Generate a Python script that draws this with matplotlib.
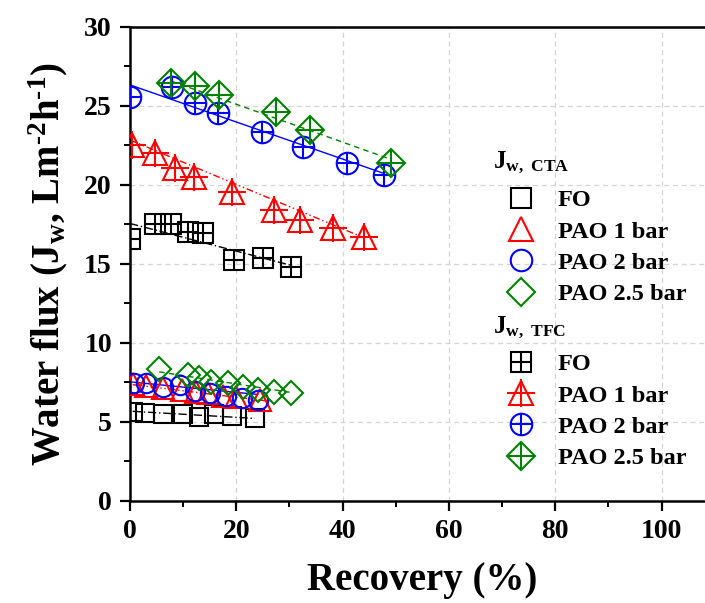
import matplotlib
matplotlib.use('Agg')
import matplotlib.pyplot as plt
from matplotlib.lines import Line2D

plt.rcParams['font.family'] = ['Liberation Serif', 'DejaVu Serif']
plt.rcParams['font.weight'] = 'bold'
plt.rcParams['mathtext.fontset'] = 'custom'
plt.rcParams['mathtext.rm'] = 'Liberation Serif:bold'
plt.rcParams['mathtext.bf'] = 'Liberation Serif:bold'
plt.rcParams['mathtext.it'] = 'Liberation Serif:bold'

# ---- data: TFC (upper cluster, crossed markers) ----
tfc_fo_x = [0.0, 4.7, 7.8, 11.0, 13.8, 19.6, 25.0, 30.3]
tfc_fo_y = [16.55, 17.5, 17.52, 17.04, 16.97, 15.24, 15.35, 14.82]
tfc_p1_x = [0.3, 4.7, 8.5, 12.0, 19.1, 27.1, 32.0, 38.1, 44.0]
tfc_p1_y = [22.53, 22.0, 21.05, 20.52, 19.57, 18.41, 17.78, 17.25, 16.72]
tfc_p2_x = [0.0, 7.85, 12.2, 16.6, 24.9, 32.6, 40.9, 47.7]
tfc_p2_y = [25.55, 26.18, 25.17, 24.54, 23.37, 22.38, 21.37, 20.63]
tfc_p25_x = [7.66, 12.3, 16.8, 27.5, 33.9, 49.2]
tfc_p25_y = [26.44, 26.27, 25.70, 24.64, 23.48, 21.41]

# ---- data: CTA (lower cluster, plain markers) ----
cta_fo_x = [0.5, 2.8, 6.3, 9.9, 13.0, 15.8, 19.1, 23.5]
cta_fo_y = [5.63, 5.57, 5.46, 5.46, 5.31, 5.46, 5.38, 5.25]
cta_p1_x = [0.5, 3.0, 6.3, 9.7, 12.5, 14.7, 17.5, 20.0, 24.5]
cta_p1_y = [7.4, 7.25, 7.1, 7.0, 6.9, 6.8, 6.65, 6.55, 6.35]
cta_p2_x = [0.75, 3.1, 6.3, 9.4, 12.3, 15.1, 18.1, 21.0, 24.0]
cta_p2_y = [7.47, 7.43, 7.21, 7.32, 6.96, 6.79, 6.62, 6.48, 6.37]
cta_p25_x = [5.5, 11.0, 12.9, 15.2, 18.5, 21.3, 24.1, 27.0, 30.2]
cta_p25_y = [8.31, 7.95, 7.74, 7.53, 7.43, 7.21, 7.0, 6.9, 6.79]

# ---- linear trend lines (endpoints) ----
tfc_fo_fit_x, tfc_fo_fit_y = [0.0, 30.3], [17.55, 14.9]
tfc_p1_fit_x, tfc_p1_fit_y = [0.0, 44.0], [22.84, 16.65]
tfc_p2_fit_x, tfc_p2_fit_y = [0.0, 47.7], [26.33, 20.73]
tfc_p25_fit_x, tfc_p25_fit_y = [7.7, 49.2], [26.58, 21.6]
cta_fo_fit_x, cta_fo_fit_y = [0.5, 23.5], [5.65, 5.2]
cta_p1_fit_x, cta_p1_fit_y = [0.5, 26.0], [7.34, 6.3]
cta_p2_fit_x, cta_p2_fit_y = [0.5, 24.0], [7.5, 6.72]
cta_p25_fit_x, cta_p25_fit_y = [5.5, 30.2], [8.15, 6.85]

labels = ['FO', 'PAO 1 bar', 'PAO 2 bar', 'PAO 2.5 bar']
colors = ['black', 'red', 'blue', 'green']
markers = ['s', '^', 'o', 'D']
msizes = [14, 17, 15.5, 14]
cross_scale = [1.0, 1.2, 1.0, 1.41]
lstyles = [(0, (6, 2, 1, 2)), (0, (5, 2, 1, 2, 1, 2)), '-', (0, (4, 3))]

fig = plt.figure(figsize=(7.05, 6.03), dpi=100)
ax = fig.add_axes([130 / 705, 1 - 500.5 / 603, 110 * 5.315 / 705, (500.5 - 27) / 603])

tfc_x = [tfc_fo_x, tfc_p1_x, tfc_p2_x, tfc_p25_x]
tfc_y = [tfc_fo_y, tfc_p1_y, tfc_p2_y, tfc_p25_y]
cta_x = [cta_fo_x, cta_p1_x, cta_p2_x, cta_p25_x]
cta_y = [cta_fo_y, cta_p1_y, cta_p2_y, cta_p25_y]
tfc_fx = [tfc_fo_fit_x, tfc_p1_fit_x, tfc_p2_fit_x, tfc_p25_fit_x]
tfc_fy = [tfc_fo_fit_y, tfc_p1_fit_y, tfc_p2_fit_y, tfc_p25_fit_y]
cta_fx = [cta_fo_fit_x, cta_p1_fit_x, cta_p2_fit_x, cta_p25_fit_x]
cta_fy = [cta_fo_fit_y, cta_p1_fit_y, cta_p2_fit_y, cta_p25_fit_y]

cta_handles = []
tfc_handles = []
for i in range(4):
    c, m, ms, ls = colors[i], markers[i], msizes[i], lstyles[i]
    ms_low = ms * 0.9
    # lower (CTA) plain
    ax.plot(cta_fx[i], cta_fy[i], color=c, ls=ls, lw=1.0, zorder=2)
    ax.plot(cta_x[i], cta_y[i], ls='none', marker=m, ms=ms_low, mfc='none',
            mec=c, mew=1.5, zorder=3)
    # upper (TFC) crossed
    ax.plot(tfc_fx[i], tfc_fy[i], color=c, ls=ls, lw=1.0, zorder=2)
    ax.plot(tfc_x[i], tfc_y[i], ls='none', marker=m, ms=ms, mfc='none',
            mec=c, mew=1.5, zorder=3)
    ax.plot(tfc_x[i], tfc_y[i], ls='none', marker='+', ms=ms * cross_scale[i],
            mec=c, mew=1.5, zorder=3)
    cta_handles.append(Line2D([], [], ls='none', marker=m, ms=ms, mfc='none',
                              mec=c, mew=1.5))
    h1 = Line2D([], [], ls='none', marker=m, ms=ms, mfc='none', mec=c, mew=1.5)
    h2 = Line2D([], [], ls='none', marker='+', ms=ms * cross_scale[i], mec=c, mew=1.5)
    tfc_handles.append((h1, h2))

ax.set_xlim(0, 110)
ax.set_ylim(0, 30)
ax.set_xticks([0, 20, 40, 60, 80, 100])
ax.set_xticks(range(10, 110, 20), minor=True)
ax.set_yticks([0, 5, 10, 15, 20, 25, 30])
ax.set_yticks([2.5, 7.5, 12.5, 17.5, 22.5, 27.5], minor=True)
ax.grid(True, which='major', color='#d4d4d4', ls=(0, (4, 3)), lw=0.9)
ax.set_axisbelow(True)
for s in ['left', 'bottom', 'top']:
    ax.spines[s].set_linewidth(1.8)
ax.spines['right'].set_visible(False)
ax.tick_params(which='major', direction='out', length=7, width=1.6,
               labelsize=20, pad=6, top=False, right=False)
ax.tick_params(which='minor', direction='out', length=4, width=1.4,
               top=False, right=False)
for lab in ax.get_xticklabels() + ax.get_yticklabels():
    lab.set_fontweight('bold')

ax.set_xlabel('Recovery (%)', fontsize=28, fontweight='bold', labelpad=13)
ax.set_ylabel(r'Water flux (J$_\mathrm{w}$, Lm$^{\text{-2}}$h$^{\text{-1}}$)',
              fontsize=28, fontweight='bold', labelpad=10)

fig.text(493 / 705, 1 - 168 / 603, r'J$_\mathrm{w,\ CTA}$', fontsize=18,
         fontweight='bold', ha='left', va='baseline')
fig.text(493 / 705, 1 - 333 / 603, r'J$_\mathrm{w,\ TFC}$', fontsize=18,
         fontweight='bold', ha='left', va='baseline')

leg_kw = dict(frameon=False, loc='upper left', handlelength=1.5,
              handletextpad=0.75, labelspacing=0.39, borderpad=0, borderaxespad=0,
              prop={'weight': 'bold', 'size': 17.5})
leg1 = ax.legend(cta_handles, labels, bbox_to_anchor=(503 / 705, 1 - 189 / 603),
                 bbox_transform=fig.transFigure, **leg_kw)
ax.add_artist(leg1)
leg2 = ax.legend(tfc_handles, labels, bbox_to_anchor=(503 / 705, 1 - 353 / 603),
                 bbox_transform=fig.transFigure, **leg_kw)

fig.savefig('out.png', dpi=100)
